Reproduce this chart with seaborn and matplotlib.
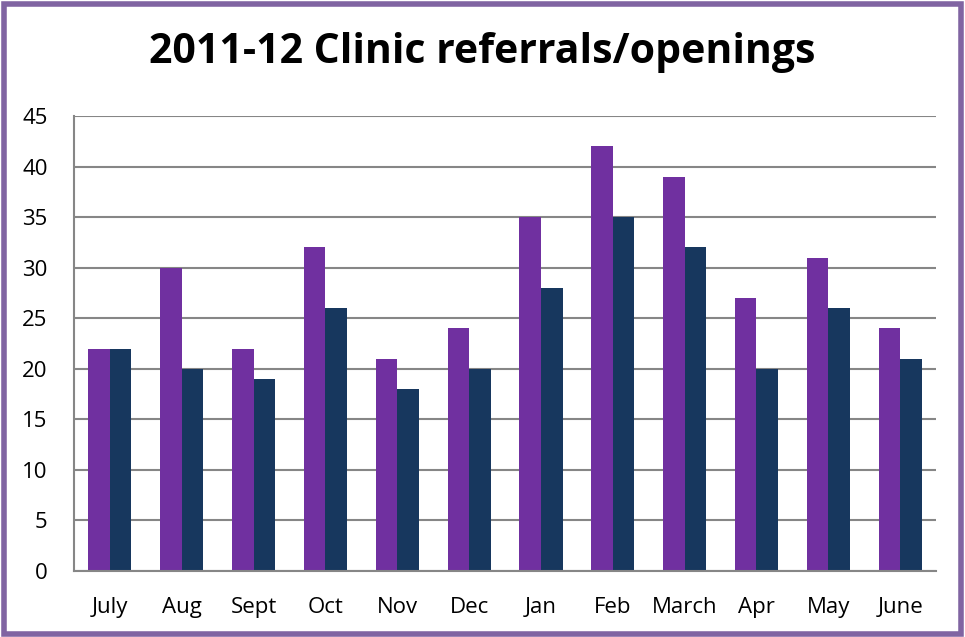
import matplotlib
matplotlib.use("Agg")
import matplotlib.pyplot as plt
import seaborn as sns
import pandas as pd
from matplotlib.patches import Rectangle

months = ["July", "Aug", "Sept", "Oct", "Nov", "Dec", "Jan", "Feb", "March", "Apr", "May", "June"]
referrals = [22, 30, 22, 32, 21, 24, 35, 42, 39, 27, 31, 24]
openings = [22, 20, 19, 26, 18, 20, 28, 35, 32, 20, 26, 21]
yticks = [0, 5, 10, 15, 20, 25, 30, 35, 40, 45]

df = pd.DataFrame({
    "month": months * 2,
    "value": referrals + openings,
    "series": ["Referrals"] * len(months) + ["Openings"] * len(months),
})

sns.set_theme(style="white")
plt.rcParams["font.family"] = ["Open Sans", "DejaVu Sans"]

fig = plt.figure(figsize=(9.65, 6.37), dpi=100)
ax = fig.add_axes([0.0767, 0.1036, 0.8933, 0.7143])

sns.barplot(data=df, x="month", y="value", hue="series", order=months,
            palette={"Referrals": "#7030A0", "Openings": "#17375E"},
            width=0.6, saturation=1, ax=ax, legend=False)

for p in ax.patches:
    p.set_edgecolor("none")

ax.set_ylim(0, 45)
ax.set_xlim(-0.5, len(months) - 0.5)
ax.set_yticks(yticks)
ax.set_yticklabels([str(t) for t in yticks], fontsize=16)
ax.tick_params(axis="x", labelsize=16, pad=19, length=0, colors="black")
ax.tick_params(axis="y", pad=19, length=0, colors="black")
ax.set_xlabel("")
ax.set_ylabel("")
ax.yaxis.grid(True, color="#868686", linewidth=1.5)
ax.set_axisbelow(True)
for s in ["top", "right"]:
    ax.spines[s].set_visible(False)
for s in ["left", "bottom"]:
    ax.spines[s].set_color("#868686")
    ax.spines[s].set_linewidth(1.5)

fig.text(0.5, 0.918, "2011-12 Clinic referrals/openings", ha="center", va="center",
         fontsize=29.5, fontweight="bold", color="black")

fig.patches.append(Rectangle((0.004, 0.004), 0.992, 0.989, transform=fig.transFigure,
                             fill=False, edgecolor="#8064A2", linewidth=4))

fig.savefig("out.png", dpi=100)
